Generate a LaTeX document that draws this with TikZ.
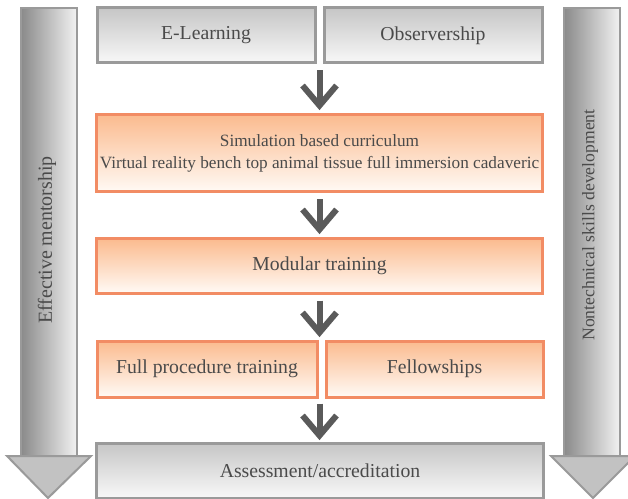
\documentclass[tikz,border=0pt]{standalone}
\usepackage{fontspec}
\setmainfont{Liberation Serif}
\usetikzlibrary{calc}
\definecolor{txt}{HTML}{4A4A4A}
\definecolor{gborder}{HTML}{9A9A9A}
\definecolor{gtop}{HTML}{C6C6C6}
\definecolor{gbot}{HTML}{F8F8F8}
\definecolor{oborder}{HTML}{F28C64}
\definecolor{otop}{HTML}{FBBB8F}
\definecolor{obot}{HTML}{FFFAF5}
\definecolor{shdark}{HTML}{8A8A8A}
\definecolor{shlight}{HTML}{F2F2F2}
\definecolor{headfill}{HTML}{C2C2C2}
\definecolor{chev}{HTML}{5A5A5A}
\tikzset{
  boxbase/.style={line width=3bp, inner sep=0pt, text=txt,
    font=\fontsize{19.8}{23}\selectfont, align=center},
  graybox/.style={boxbase, draw=gborder, top color=gtop, bottom color=gbot},
  orbox/.style={boxbase, draw=oborder, top color=otop, bottom color=obot},
  shaft/.style={draw=gborder, line width=2bp, left color=shdark, right color=shlight},
  bighead/.style={draw=gborder, line width=2bp, fill=headfill, line join=miter},
  chevline/.style={draw=chev, line width=6bp, line join=miter},
  sidetext/.style={text=txt, rotate=90}
}
\begin{document}
\begin{tikzpicture}[x=1bp, y=-1bp]
\clip (0,0) rectangle (628,499);
\fill[white] (0,0) rectangle (628,499);
% side arrows
\path[shaft] (21,8) rectangle (77,456);
\path[bighead] (7,456) -- (91,456) -- (48,498) -- cycle;
\node[sidetext, font=\fontsize{20}{24}\selectfont] (L) at (47,240) {Effective mentorship};
\path[shaft] (564,8) rectangle (620,456);
\path[bighead] (551,456) -- (635,456) -- (593,498) -- cycle;
\node[sidetext, font=\fontsize{17.7}{21}\selectfont] (R) at (590,225) {Nontechnical skills development};
% boxes
\node[graybox, minimum width=218bp, minimum height=55bp] (EL) at (206,35.5) {E-Learning};
\node[graybox, minimum width=218bp, minimum height=55bp] (OB) at (433,35.5) {Observership};
\node[orbox, minimum width=445bp, minimum height=77bp, font=\fontsize{17.3}{22}\selectfont] (SIM) at (319.5,153.5)
  {Simulation based curriculum\\Virtual reality bench top animal tissue full immersion cadaveric};
\node[orbox, minimum width=445bp, minimum height=54bp] (MOD) at (319.5,266) {Modular training};
\node[orbox, minimum width=220bp, minimum height=56bp] (FP) at (207,369) {Full procedure training};
\node[orbox, minimum width=217bp, minimum height=56bp] (FE) at (434.5,369) {Fellowships};
\node[graybox, minimum width=446bp, minimum height=55bp] (AS) at (320,470.5) {Assessment/accreditation};
% chevron arrows
\coordinate (a1s) at ($(EL.south east)!0.5!(OB.south west)+(0,6)$);
\coordinate (a1e) at ($(a1s |- SIM.north)+(0,-8)$);
\draw[chevline] (a1s) -- (a1e);
\draw[chevline] ($(a1e)+(-17,-20)$) -- (a1e) -- ($(a1e)+(17,-20)$);
\coordinate (a2s) at ($(a1s |- SIM.south)+(0,6)$);
\coordinate (a2e) at ($(a1s |- MOD.north)+(0,-8)$);
\draw[chevline] (a2s) -- (a2e);
\draw[chevline] ($(a2e)+(-17,-20)$) -- (a2e) -- ($(a2e)+(17,-20)$);
\coordinate (a3s) at ($(a1s |- MOD.south)+(0,6)$);
\coordinate (a3e) at ($(a1s |- FP.north)+(0,-7)$);
\draw[chevline] (a3s) -- (a3e);
\draw[chevline] ($(a3e)+(-17,-20)$) -- (a3e) -- ($(a3e)+(17,-20)$);
\coordinate (a4s) at ($(a1s |- FP.south)+(0,5)$);
\coordinate (a4e) at ($(a1s |- AS.north)+(0,-6)$);
\draw[chevline] (a4s) -- (a4e);
\draw[chevline] ($(a4e)+(-17,-20)$) -- (a4e) -- ($(a4e)+(17,-20)$);
\end{tikzpicture}
\end{document}
